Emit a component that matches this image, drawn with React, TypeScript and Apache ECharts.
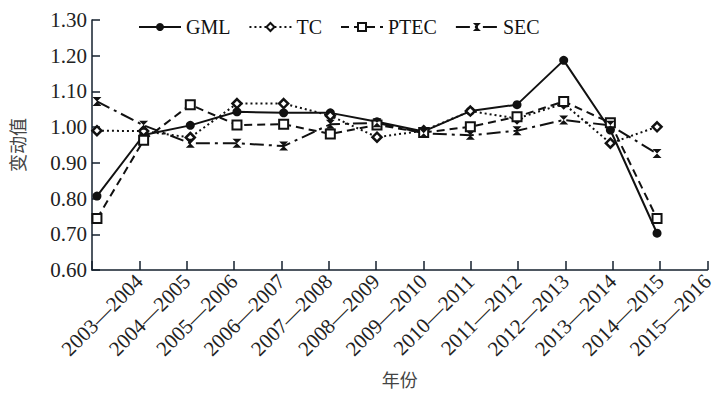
import React, { useEffect, useRef } from "react";
import * as echarts from "echarts";

const categories = [
  "2003—2004", "2004—2005", "2005—2006", "2006—2007", "2007—2008",
  "2008—2009", "2009—2010", "2010—2011", "2011—2012", "2012—2013",
  "2013—2014", "2014—2015", "2015—2016",
];
const yTicks = [0.6, 0.7, 0.8, 0.9, 1.0, 1.1, 1.2, 1.3];

const gml = [0.807, 0.978, 1.005, 1.043, 1.04, 1.04, 1.015, 0.988, 1.045, 1.063, 1.187, 0.992, 0.703];
const tc = [0.99, 0.989, 0.971, 1.066, 1.066, 1.032, 0.972, 0.99, 1.045, 1.024, 1.066, 0.955, 1.001];
const ptec = [0.744, 0.963, 1.063, 1.006, 1.008, 0.981, 1.006, 0.985, 1.001, 1.029, 1.072, 1.012, 0.744];
const sec = [1.072, 1.005, 0.955, 0.955, 0.947, 1.008, 1.012, 0.983, 0.977, 0.99, 1.02, 1.005, 0.926];

const SERIF = "'Liberation Serif', 'Times New Roman', serif";
const CJK = "'Noto Sans CJK SC', sans-serif";
const HOURGLASS = "path://M0,0L10,0L5,5L10,10L0,10L5,5Z";

export default function App() {
  const ref = useRef<HTMLDivElement>(null);
  useEffect(() => {
    if (!ref.current) return;
    const chart = echarts.init(ref.current, null, { renderer: "svg" });
    const pts = (arr: number[]) => arr.map((v, i) => [i, v]);
    const mk = (name: string, data: number[], lineType: any, symbol: string, hollow: boolean, size: number, bw: number) => ({
      name,
      type: "line",
      xAxisIndex: 1,
      data: pts(data),
      symbol,
      symbolSize: size,
      lineStyle: { color: "#111", width: 2, type: lineType },
      itemStyle: hollow
        ? { color: "#fff", borderColor: "#111", borderWidth: bw }
        : { color: "#111", borderColor: "#111", borderWidth: 0 },
      emphasis: { disabled: true },
      z: 3,
    });
    chart.setOption({
      animation: false,
      backgroundColor: "#fff",
      grid: { left: 92, right: 3, top: 20, bottom: 119, containLabel: false },
      legend: {
        left: 133,
        top: 12,
        itemWidth: 42,
        itemHeight: 10,
        itemGap: 18,
        textStyle: { fontFamily: SERIF, fontSize: 20, color: "#111" },
        data: ["GML", "TC", "PTEC", "SEC"],
      },
      xAxis: [
        {
          type: "value",
          min: 0,
          max: categories.length,
          interval: 1,
          position: "bottom",
          name: "年份",
          nameLocation: "middle",
          nameGap: 100,
          nameTextStyle: { fontFamily: CJK, fontSize: 18, color: "#444" },
          axisLine: { show: true, onZero: false, lineStyle: { color: "#14202e", width: 1.5 } },
          axisTick: { show: true, inside: true, length: 9, lineStyle: { color: "#14202e", width: 1.5 } },
          splitLine: { show: false },
          axisLabel: {
            rotate: 45,
            margin: 8,
            fontFamily: SERIF,
            fontSize: 21,
            color: "#222",
            showMinLabel: true,
            showMaxLabel: true,
            formatter: (v: number) => (v >= 1 ? categories[Math.round(v) - 1] : ""),
          },
        },
        {
          type: "value",
          min: -0.106,
          max: 13.08,
          show: false,
          position: "bottom",
          splitLine: { show: false },
        },
      ],
      yAxis: {
        type: "value",
        min: 0.6,
        max: 1.3,
        interval: 0.1,
        name: "变动值",
        nameLocation: "middle",
        nameRotate: 90,
        nameGap: 66,
        nameTextStyle: { fontFamily: CJK, fontSize: 18, color: "#444" },
        axisLine: { show: true, lineStyle: { color: "#14202e", width: 1.5 } },
        axisTick: { show: true, inside: true, length: 8, lineStyle: { color: "#14202e", width: 1.5 } },
        splitLine: { show: false },
        axisLabel: {
          margin: 5,
          fontFamily: SERIF,
          fontSize: 21,
          color: "#222",
          customValues: yTicks,
          formatter: (v: number) => v.toFixed(2),
        },
      },
      series: [
        mk("GML", gml, "solid", "circle", false, 9, 0),
        mk("TC", tc, [2, 3], "diamond", true, 9, 2.5),
        mk("PTEC", ptec, [8, 5], "rect", true, 9, 2),
        mk("SEC", sec, [14, 5, 3, 5], HOURGLASS, false, 9, 0),
      ],
    });
    return () => chart.dispose();
  }, []);
  return <div ref={ref} style={{ width: 717, height: 393, position: "absolute", left: 0, top: 0 }} />;
}
